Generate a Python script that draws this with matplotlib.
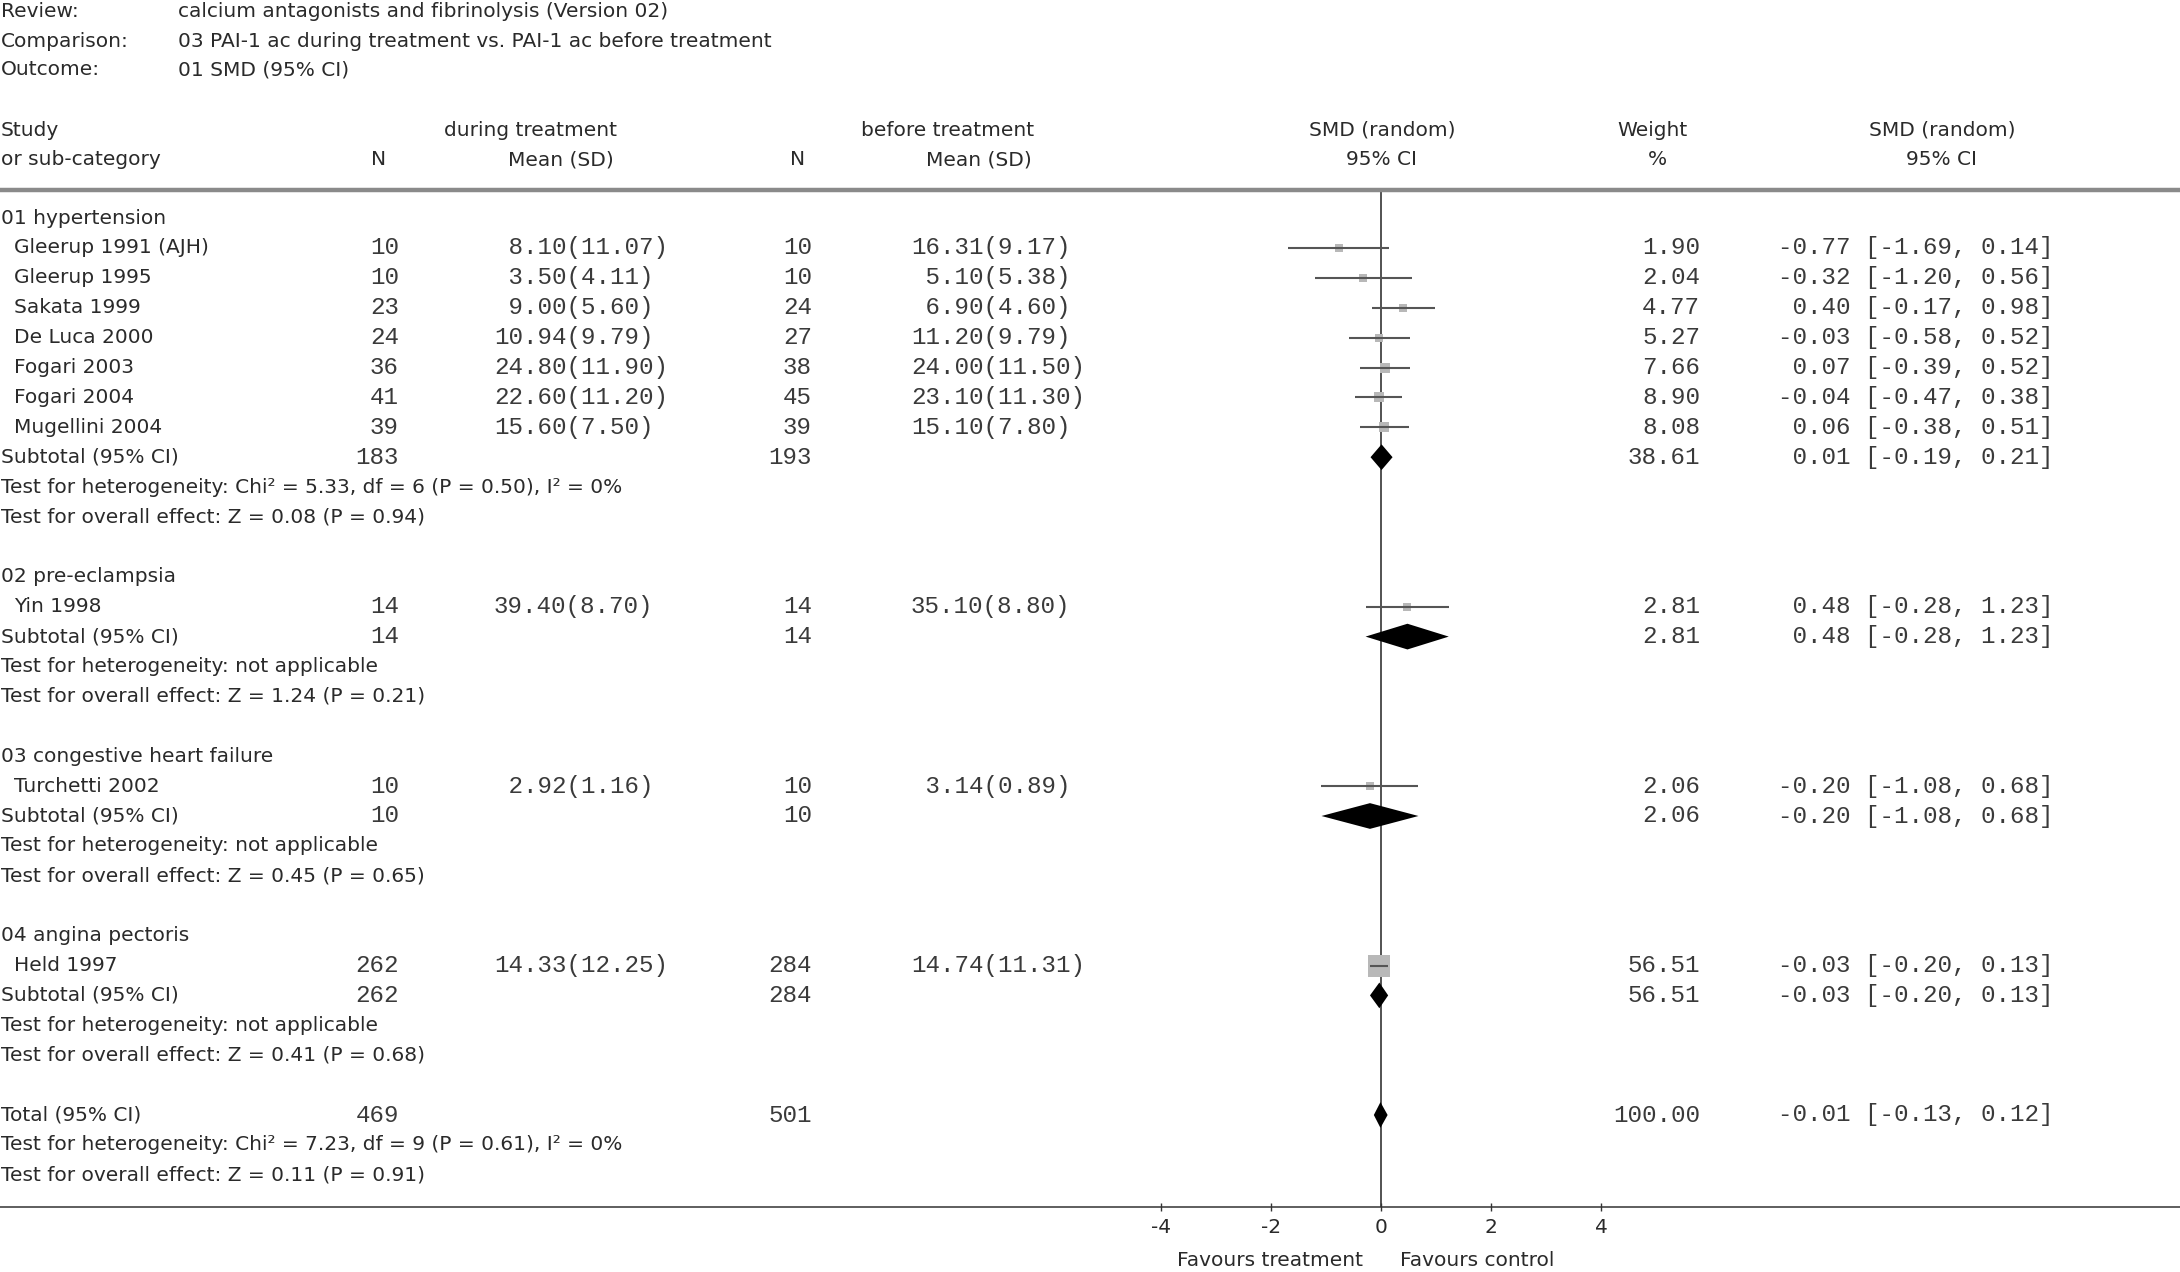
import matplotlib
matplotlib.use("Agg")
import matplotlib.pyplot as plt

plt.rcParams['font.family'] = ['DejaVu Sans']
plt.rcParams['axes.unicode_minus'] = False

# header of the review
header_labels = ["Review:", "Comparison:", "Outcome:"]
header_values = ["calcium antagonists and fibrinolysis (Version 02)",
                 "03 PAI-1 ac during treatment vs. PAI-1 ac before treatment",
                 "01 SMD (95% CI)"]

# subgroups
group_names = ["01 hypertension", "02 pre-eclampsia",
               "03 congestive heart failure", "04 angina pectoris"]

# studies
study_names = ["Gleerup 1991 (AJH)", "Gleerup 1995", "Sakata 1999", "De Luca 2000",
               "Fogari 2003", "Fogari 2004", "Mugellini 2004",
               "Yin 1998", "Turchetti 2002", "Held 1997"]
study_group = [0, 0, 0, 0, 0, 0, 0, 1, 2, 3]
n_during = [10, 10, 23, 24, 36, 41, 39, 14, 10, 262]
mean_during = [8.10, 3.50, 9.00, 10.94, 24.80, 22.60, 15.60, 39.40, 2.92, 14.33]
sd_during = [11.07, 4.11, 5.60, 9.79, 11.90, 11.20, 7.50, 8.70, 1.16, 12.25]
n_before = [10, 10, 24, 27, 38, 45, 39, 14, 10, 284]
mean_before = [16.31, 5.10, 6.90, 11.20, 24.00, 23.10, 15.10, 35.10, 3.14, 14.74]
sd_before = [9.17, 5.38, 4.60, 9.79, 11.50, 11.30, 7.80, 8.80, 0.89, 11.31]
weight = [1.90, 2.04, 4.77, 5.27, 7.66, 8.90, 8.08, 2.81, 2.06, 56.51]
smd = [-0.77, -0.32, 0.40, -0.03, 0.07, -0.04, 0.06, 0.48, -0.20, -0.03]
ci_lo = [-1.69, -1.20, -0.17, -0.58, -0.39, -0.47, -0.38, -0.28, -1.08, -0.20]
ci_hi = [0.14, 0.56, 0.98, 0.52, 0.52, 0.38, 0.51, 1.23, 0.68, 0.13]

# subtotals per group
sub_n_during = [183, 14, 10, 262]
sub_n_before = [193, 14, 10, 284]
sub_weight = [38.61, 2.81, 2.06, 56.51]
sub_smd = [0.01, 0.48, -0.20, -0.03]
sub_lo = [-0.19, -0.28, -1.08, -0.20]
sub_hi = [0.21, 1.23, 0.68, 0.13]
sub_het = ["Chi\u00b2 = 5.33, df = 6 (P = 0.50), I\u00b2 = 0%", "not applicable",
           "not applicable", "not applicable"]
sub_z = ["Z = 0.08 (P = 0.94)", "Z = 1.24 (P = 0.21)",
         "Z = 0.45 (P = 0.65)", "Z = 0.41 (P = 0.68)"]

# overall
total_n_during = 469
total_n_before = 501
total_weight = 100.00
total_smd = -0.01
total_lo = -0.13
total_hi = 0.12
total_het = "Chi\u00b2 = 7.23, df = 9 (P = 0.61), I\u00b2 = 0%"
total_z = "Z = 0.11 (P = 0.91)"

xticks = [-4, -2, 0, 2, 4]

# layout (pixels of a 2180 wide figure)
W, H = 2180, 1272
x_zero, px_unit = 1381, 55.1
row0_px, row_px = 218, 29.9
top_px, axis_px = 190, 1207

sans = dict(family='DejaVu Sans', fontsize=14.5, color='#2a2a2a', va='center')
mono = dict(family='Liberation Mono', fontsize=17.4, color='#3a3a3a', va='center')

fig = plt.figure(figsize=(W / 100, H / 100), dpi=100)
ax = fig.add_axes([0, 1 - axis_px / H, 1, (axis_px - top_px) / H])
ax.set_xlim(-x_zero / px_unit, (W - x_zero) / px_unit)
ax.set_ylim((axis_px - row0_px) / row_px, (top_px - row0_px) / row_px)

# table columns live on a twin axis in pixel units
tb = ax.twiny()
tb.set_xlim(0, W)
tb.axis('off')

for side in ['left', 'right']:
    ax.spines[side].set_visible(False)
ax.spines['top'].set_color('#8a8a8a')
ax.spines['top'].set_linewidth(3.2)
ax.spines['bottom'].set_color('#333333')
ax.spines['bottom'].set_linewidth(1.1)
ax.set_yticks([])
ax.set_xticks(xticks)
ax.set_xticklabels([str(t) for t in xticks])
ax.tick_params(axis='x', direction='inout', length=6, width=1, pad=5,
               labelsize=14.5, labelcolor='#2a2a2a', colors='#333333')
ax.axvline(0, color='#444444', lw=1.3, zorder=1)

# header block
header_rows = [-6.9, -5.9, -4.95]
for r, lab, val in zip(header_rows, header_labels, header_values):
    tb.text(1, r, lab, ha='left', clip_on=False, **sans)
    tb.text(178, r, val, ha='left', clip_on=False, **sans)

r1, r2 = -2.94, -1.94
tb.text(1, r1, "Study", ha='left', **sans)
tb.text(1, r2, "or sub-category", ha='left', **sans)
tb.text(530, r1, "during treatment", ha='center', **sans)
tb.text(379, r2, "N", ha='center', **sans)
tb.text(561, r2, "Mean (SD)", ha='center', **sans)
tb.text(948, r1, "before treatment", ha='center', **sans)
tb.text(798, r2, "N", ha='center', **sans)
tb.text(979, r2, "Mean (SD)", ha='center', **sans)
tb.text(1382, r1, "SMD (random)", ha='center', **sans)
tb.text(1382, r2, "95% CI", ha='center', **sans)
tb.text(1652, r1, "Weight", ha='center', **sans)
tb.text(1657, r2, "%", ha='center', **sans)
tb.text(1942, r1, "SMD (random)", ha='center', **sans)
tb.text(1942, r2, "95% CI", ha='center', **sans)


def ci_text(e, lo, hi):
    return f"{e:5.2f} [{lo:5.2f}, {hi:4.2f}]"


def diamond(row, e, lo, hi):
    h = 0.43
    ax.fill([lo, e, hi, e], [row, row - h, row, row + h], color='black', zorder=4, lw=0)


row = 0
for g, gname in enumerate(group_names):
    tb.text(1, row, gname, ha='left', **sans)
    row += 1
    for i in range(len(study_names)):
        if study_group[i] != g:
            continue
        tb.text(14, row, study_names[i], ha='left', **sans)
        tb.text(399, row, str(n_during[i]), ha='right', **mono)
        tb.text(494, row, f"{mean_during[i]:5.2f}({sd_during[i]:.2f})", ha='left', **mono)
        tb.text(812, row, str(n_before[i]), ha='right', **mono)
        tb.text(911, row, f"{mean_before[i]:5.2f}({sd_before[i]:.2f})", ha='left', **mono)
        tb.text(1700, row, f"{weight[i]:.2f}", ha='right', **mono)
        tb.text(1778, row, ci_text(smd[i], ci_lo[i], ci_hi[i]), ha='left', **mono)
        side = 7 + 0.27 * weight[i]
        ax.scatter([smd[i]], [row], marker='s', s=(side * 0.72) ** 2,
                   color='#b8b8b8', lw=0, zorder=2)
        ax.hlines(row, ci_lo[i], ci_hi[i], color='#555555', lw=1.5, zorder=3)
        row += 1
    tb.text(1, row, "Subtotal (95% CI)", ha='left', **sans)
    tb.text(399, row, str(sub_n_during[g]), ha='right', **mono)
    tb.text(812, row, str(sub_n_before[g]), ha='right', **mono)
    tb.text(1700, row, f"{sub_weight[g]:.2f}", ha='right', **mono)
    tb.text(1778, row, ci_text(sub_smd[g], sub_lo[g], sub_hi[g]), ha='left', **mono)
    diamond(row, sub_smd[g], sub_lo[g], sub_hi[g])
    row += 1
    tb.text(1, row, "Test for heterogeneity: " + sub_het[g], ha='left', **sans)
    row += 1
    tb.text(1, row, "Test for overall effect: " + sub_z[g], ha='left', **sans)
    row += 2

tb.text(1, row, "Total (95% CI)", ha='left', **sans)
tb.text(399, row, str(total_n_during), ha='right', **mono)
tb.text(812, row, str(total_n_before), ha='right', **mono)
tb.text(1700, row, f"{total_weight:.2f}", ha='right', **mono)
tb.text(1778, row, ci_text(total_smd, total_lo, total_hi), ha='left', **mono)
diamond(row, total_smd, total_lo, total_hi)
tb.text(1, row + 1, "Test for heterogeneity: " + total_het, ha='left', **sans)
tb.text(1, row + 2, "Test for overall effect: " + total_z, ha='left', **sans)

fav_row = (1261 - row0_px) / row_px
ax.text(-0.33, fav_row, "Favours treatment", ha='right', clip_on=False, **sans)
ax.text(0.34, fav_row, "Favours control", ha='left', clip_on=False, **sans)

fig.savefig("out.png", dpi=100, facecolor='white')
